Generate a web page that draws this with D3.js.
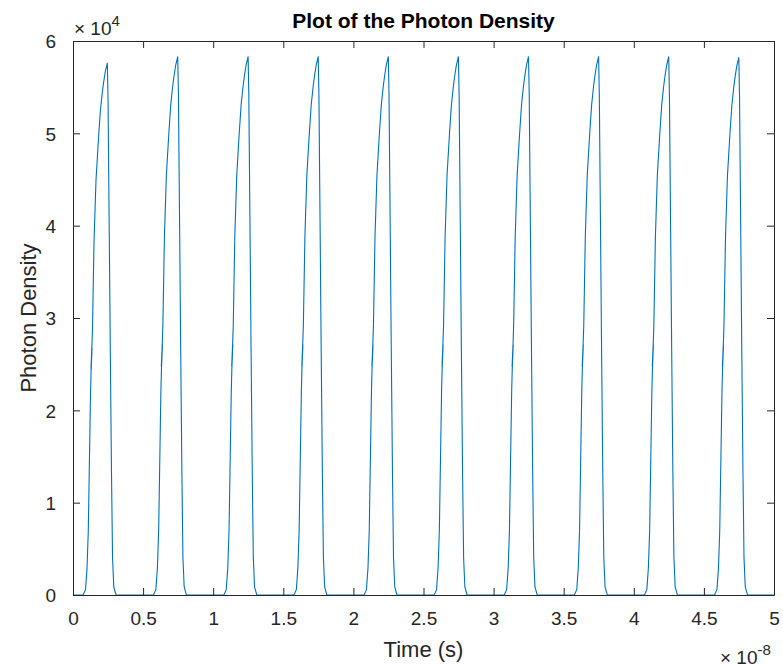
<!DOCTYPE html>
<html>
<head>
<meta charset="utf-8">
<script src="https://cdn.jsdelivr.net/npm/d3@7"></script>
<style>
  body { margin: 0; background: #fff; }
  svg { display: block; font-family: "Liberation Sans", Arial, sans-serif; }
</style>
</head>
<body>
<div id="chart"></div>
<script>
// time in units of 1e-8 s, photon density in units of 1e4
const xTicks = [0, 0.5, 1, 1.5, 2, 2.5, 3, 3.5, 4, 4.5, 5];
const yTicks = [0, 1, 2, 3, 4, 5, 6];

// peak time and peak height of each pulse
const peakTimes  = [0.245, 0.747, 1.249, 1.749, 2.249, 2.749, 3.249, 3.749, 4.249, 4.749];
const peakValues = [5.76, 5.83, 5.83, 5.83, 5.83, 5.83, 5.83, 5.83, 5.83, 5.82];

// shape of one pulse: time offset from the peak, fraction of the peak height
// (the small zigzag near 0.42-0.47 is the notch seen on every rising edge)
const shapeDt   = [-0.173, -0.156, -0.145, -0.136, -0.128, -0.120, -0.116, -0.109, -0.117, -0.110,
                   -0.106, -0.095, -0.081, -0.064, -0.050, -0.036, -0.026, -0.014, 0, 0.005,
                   0.014, 0.021, 0.030, 0.037, 0.046, 0.062];
const shapeFrac = [0, 0.01, 0.05, 0.12, 0.25, 0.38, 0.42, 0.465, 0.425, 0.47,
                   0.50, 0.665, 0.78, 0.855, 0.91, 0.945, 0.965, 0.985, 1, 0.93,
                   0.67, 0.46, 0.22, 0.07, 0.015, 0];

const W = 783, H = 668;
const margin = { top: 41, right: 9, bottom: 73, left: 73 };
const plotW = W - margin.left - margin.right;
const plotH = H - margin.top - margin.bottom;
const axisColor = "#262626";
const tickLen = 7;

// build the series from the pulses
const series = [{ t: 0, v: 0 }];
peakTimes.forEach((pt, i) => {
  shapeDt.forEach((dt, j) => series.push({ t: pt + dt, v: peakValues[i] * shapeFrac[j] }));
});
series.push({ t: 5, v: 0 });

const svg = d3.select("#chart").append("svg")
  .attr("width", W)
  .attr("height", H);

const g = svg.append("g").attr("transform", `translate(${margin.left},${margin.top})`);

const x = d3.scaleLinear().domain([0, 5]).range([0, plotW]);
const y = d3.scaleLinear().domain([0, 6]).range([plotH, 0]);

svg.append("defs").append("clipPath").attr("id", "clip")
  .append("rect").attr("width", plotW).attr("height", plotH);

// data line
g.append("path")
  .datum(series)
  .attr("clip-path", "url(#clip)")
  .attr("fill", "none")
  .attr("stroke", "#0072BD")
  .attr("stroke-width", 1.1)
  .attr("stroke-linejoin", "round")
  .attr("d", d3.line().x(d => x(d.t)).y(d => y(d.v)));

// axes, ticks pointing inward on all four sides
const fmt = d => String(d);
const axBottom = g.append("g").attr("transform", `translate(0,${plotH})`)
  .call(d3.axisBottom(x).tickValues(xTicks).tickFormat(fmt).tickSizeInner(-tickLen).tickSizeOuter(0).tickPadding(17));
const axTop = g.append("g")
  .call(d3.axisTop(x).tickValues(xTicks).tickFormat("").tickSizeInner(-tickLen).tickSizeOuter(0));
const axLeft = g.append("g")
  .call(d3.axisLeft(y).tickValues(yTicks).tickFormat(fmt).tickSizeInner(-tickLen).tickSizeOuter(0).tickPadding(17));
const axRight = g.append("g").attr("transform", `translate(${plotW},0)`)
  .call(d3.axisRight(y).tickValues(yTicks).tickFormat("").tickSizeInner(-tickLen).tickSizeOuter(0));

[axBottom, axTop, axLeft, axRight].forEach(a => {
  a.select(".domain").attr("stroke", axisColor);
  a.selectAll(".tick line").attr("stroke", axisColor);
  a.selectAll("text").attr("fill", axisColor).style("font-size", "19px");
  a.attr("font-family", null).attr("font-size", null);
});
axLeft.selectAll(".tick text").attr("dy", "0.36em");
axBottom.selectAll(".tick text").attr("dy", "0.71em");

// exponent labels
const e4 = svg.append("text")
  .attr("x", margin.left + 1).attr("y", 35)
  .attr("fill", axisColor).style("font-size", "19px");
e4.append("tspan").text("\u00d7 10");
e4.append("tspan").attr("dy", -9).style("font-size", "15px").text("4");

const e8 = svg.append("text")
  .attr("x", 720).attr("y", 664)
  .attr("fill", axisColor).style("font-size", "19px");
e8.append("tspan").text("\u00d7 10");
e8.append("tspan").attr("dy", -9).style("font-size", "15px").text("-8");

// axis labels and title
svg.append("text")
  .attr("x", margin.left + plotW / 2).attr("y", 657)
  .attr("text-anchor", "middle")
  .attr("fill", axisColor).style("font-size", "22px")
  .text("Time (s)");

svg.append("text")
  .attr("transform", `translate(36,${margin.top + plotH / 2}) rotate(-90)`)
  .attr("text-anchor", "middle")
  .attr("fill", axisColor).style("font-size", "22px")
  .text("Photon Density");

svg.append("text")
  .attr("x", margin.left + plotW / 2).attr("y", 28)
  .attr("text-anchor", "middle")
  .attr("fill", "#000").style("font-size", "21px").style("font-weight", "bold")
  .text("Plot of the Photon Density");
</script>
</body>
</html>
